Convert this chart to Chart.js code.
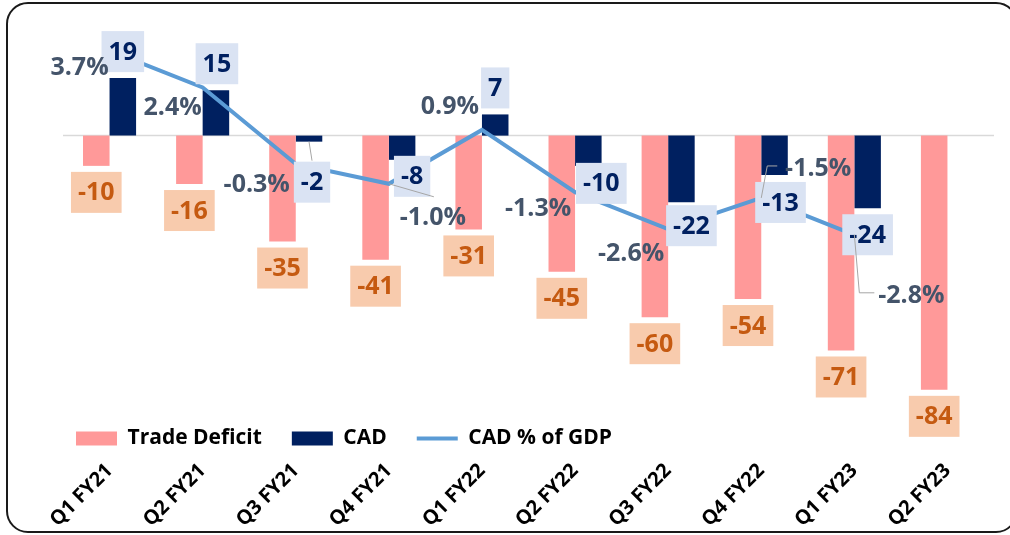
<!DOCTYPE html>
<html>
<head>
<meta charset="utf-8">
<script src="https://cdn.jsdelivr.net/npm/chart.js@4.4.0/dist/chart.umd.min.js"></script>
<style>
  html, body { margin: 0; padding: 0; background: #fff; }
  #wrap { position: relative; width: 1010px; height: 535px; overflow: hidden; }
  #wrap canvas { position: absolute; left: 0; top: 0; }
  #frame { position: absolute; left: 6px; top: 2px; width: 1012px; height: 531px; box-sizing: border-box;
           border: 2px solid #1a1a1a; border-radius: 22px; pointer-events: none; }
</style>
</head>
<body>
<div id="wrap">
  <canvas id="chart" width="1010" height="535"></canvas>
  <div id="frame"></div>
</div>
<script>
const quarters = ['Q1 FY21', 'Q2 FY21', 'Q3 FY21', 'Q4 FY21', 'Q1 FY22', 'Q2 FY22', 'Q3 FY22', 'Q4 FY22', 'Q1 FY23', 'Q2 FY23'];
const tradeDeficit = [-10, -16, -35, -41, -31, -45, -60, -54, -71, -84];
const cad = [19, 15, -2, -8, 7, -10, -22, -13, -24, null];
const cadPctGdp = [3.7, 2.4, -0.3, -1.0, 0.9, -1.3, -2.6, -1.5, -2.8, null];

// hand-placed label nudges (px), like the dragged labels in the original sheet
const cadLabelShift = [[0, 0], [1, 0], [3, 14], [10, -10], [0, 0], [13, -9], [10, -3], [6, 1], [0, 0]];
const pctLabelShift = [[-30, 17], [-30, 20], [-39, 21], [44, 34], [-32, -23], [-37, 17], [-37, 25], [57, -29], [57, 61]];
// leader lines, as offsets from the point they belong to
const pctLeaders = { 3: [[0, 0], [45, 13]], 7: [[0, 0], [6, -32], [16, -32]], 8: [[0, 0], [5, 58], [20, 58]] };
const cadLeaders = { 2: [[0, 0], [3, 19]] };

const labelFont = 'bold 25px "Open Sans"';

function boxLabel(ctx, text, cx, cy, bg, fg) {
  const w = ctx.measureText(text).width + 14;
  const h = 41;
  ctx.fillStyle = bg;
  ctx.fillRect(cx - w / 2, cy - h / 2, w, h);
  ctx.fillStyle = fg;
  ctx.fillText(text, cx, cy + 1);
}

function leader(ctx, x, y, pts) {
  ctx.beginPath();
  pts.forEach((p, i) => i ? ctx.lineTo(x + p[0], y + p[1]) : ctx.moveTo(x + p[0], y + p[1]));
  ctx.stroke();
}

const valueLabels = {
  id: 'valueLabels',
  beforeDatasetsDraw(chart) {
    const {ctx, chartArea} = chart;
    const y0 = chart.scales.y.getPixelForValue(0);
    ctx.save();
    ctx.strokeStyle = '#D9D9D9';
    ctx.lineWidth = 1.5;
    ctx.beginPath();
    ctx.moveTo(chartArea.left, y0);
    ctx.lineTo(chartArea.right, y0);
    ctx.stroke();
    ctx.restore();
  },
  afterDatasetsDraw(chart) {
    const ctx = chart.ctx;
    ctx.save();
    ctx.font = labelFont;
    ctx.textAlign = 'center';
    ctx.textBaseline = 'middle';
    ctx.strokeStyle = '#A6A6A6';
    ctx.lineWidth = 1;

    chart.getDatasetMeta(0).data.forEach((bar, i) => {
      boxLabel(ctx, String(tradeDeficit[i]), bar.x, bar.y + 6 + 20.5, '#F8CBAD', '#C55A11');
    });

    const cadMeta = chart.getDatasetMeta(1);
    Object.keys(cadLeaders).forEach(k => {
      const bar = cadMeta.data[k];
      leader(ctx, bar.x, bar.y, cadLeaders[k]);
    });
    cadMeta.data.forEach((bar, i) => {
      if (cad[i] === null) return;
      const s = cadLabelShift[i];
      const cy = cad[i] >= 0 ? bar.y - 6 - 20.5 : bar.y + 6 + 20.5;
      boxLabel(ctx, String(cad[i]), bar.x + s[0], cy + s[1], '#DAE3F3', '#002060');
    });

    const lineMeta = chart.getDatasetMeta(2);
    Object.keys(pctLeaders).forEach(k => {
      const pt = lineMeta.data[k];
      leader(ctx, pt.x, pt.y, pctLeaders[k]);
    });
    ctx.fillStyle = '#44546A';
    lineMeta.data.forEach((pt, i) => {
      if (cadPctGdp[i] === null) return;
      const s = pctLabelShift[i];
      ctx.fillText(cadPctGdp[i].toFixed(1) + '%', pt.x + s[0], pt.y + s[1]);
    });
    ctx.restore();
  }
};

const chart = new Chart(document.getElementById('chart'), {
  type: 'bar',
  data: {
    labels: quarters,
    datasets: [
      {
        label: 'Trade Deficit',
        data: tradeDeficit,
        backgroundColor: '#FF9999',
        yAxisID: 'y',
        order: 1,
        barPercentage: 1,
        categoryPercentage: 0.57
      },
      {
        label: 'CAD',
        data: cad,
        backgroundColor: '#002060',
        yAxisID: 'y',
        order: 1,
        barPercentage: 1,
        categoryPercentage: 0.57
      },
      {
        type: 'line',
        label: 'CAD % of GDP',
        data: cadPctGdp,
        borderColor: '#5B9BD5',
        backgroundColor: '#5B9BD5',
        borderWidth: 4,
        pointRadius: 0,
        tension: 0,
        yAxisID: 'y1',
        order: 0
      }
    ]
  },
  options: {
    responsive: false,
    animation: false,
    layout: { padding: { left: 46, right: 16, top: 20, bottom: 0 } },
    plugins: {
      tooltip: { enabled: false },
      legend: {
        position: 'bottom',
        align: 'start',
        labels: {
          usePointStyle: true,
          pointStyleWidth: 41,
          boxHeight: 14,
          padding: 30,
          color: '#000',
          font: { family: 'Open Sans', weight: 'bold', size: 21 },
          generateLabels(c) {
            const items = Chart.defaults.plugins.legend.labels.generateLabels(c);
            items.forEach(it => { it.pointStyle = it.datasetIndex === 2 ? 'line' : 'rect'; });
            return items.sort((a, b) => a.datasetIndex - b.datasetIndex);
          }
        }
      }
    },
    scales: {
      x: {
        weight: 2000,
        grid: { display: false, drawTicks: false },
        border: { display: false },
        ticks: {
          minRotation: 45,
          maxRotation: 45,
          padding: 0,
          color: '#000',
          font: { family: 'Open Sans', weight: 'bold', size: 20 }
        },
        afterFit(s) { s.height = 76; }
      },
      y: {
        min: -86.7,
        max: 38.2,
        grid: { display: false },
        border: { display: false },
        ticks: { display: false },
        afterFit(s) { s.width = 17; }
      },
      y1: {
        display: false,
        position: 'right',
        min: -8.557,
        max: 4.777
      }
    }
  },
  plugins: [valueLabels]
});
</script>
</body>
</html>
